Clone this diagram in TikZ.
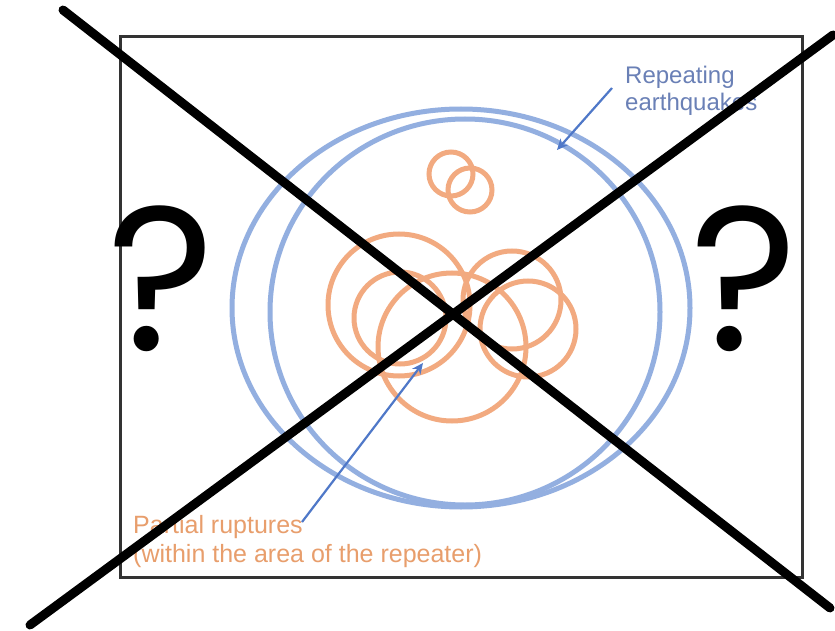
\documentclass[tikz,border=0pt]{standalone}
\usepackage{fontspec}
\newfontfamily\labfont{Liberation Sans}
\newfontfamily\qfont{Poppins}
\usetikzlibrary{arrows.meta}
\definecolor{ringblue}{HTML}{93AFE0}
\definecolor{ringorange}{HTML}{F2AA80}
\definecolor{arrowblue}{HTML}{4F78C8}
\definecolor{textblue}{HTML}{6A80B6}
\definecolor{textorange}{HTML}{E89E6C}
\tikzset{
  frame/.style={draw=black!80, line width=3pt},
  bluering/.style={draw=ringblue, line width=5pt},
  orangering/.style={draw=ringorange, line width=5pt},
  pointer/.style={draw=arrowblue, line width=2.2pt, -{Stealth[length=11pt,width=10pt]}},
  bluelabel/.style={text=textblue, font=\labfont\fontsize{24}{27}\selectfont, align=left, inner sep=0pt, anchor=north west},
  orangelabel/.style={text=textorange, font=\labfont\fontsize{25}{29}\selectfont, align=left, inner sep=0pt, anchor=north west},
  qmark/.style={font=\qfont\fontsize{205}{205}\selectfont, inner sep=0pt, anchor=base},
  crossline/.style={draw=black, line width=9pt, line cap=round}
}
\begin{document}
\begin{tikzpicture}[x=1pt,y=-1pt]
\useasboundingbox (0,0) rectangle (835,631);
\fill[white] (0,0) rectangle (835,631);
% frame
\draw[frame] (120,37) rectangle (802,577);
% repeating earthquakes (blue)
\draw[bluering] (461,308) ellipse [x radius=229, y radius=199];
\draw[bluering] (465,312) ellipse [x radius=195, y radius=193];
% partial ruptures (orange)
\draw[orangering] (451,174) circle [radius=22];
\draw[orangering] (470,190) circle [radius=22];
\draw[orangering] (399,305) circle [radius=71];
\draw[orangering] (400,318) circle [radius=46];
\draw[orangering] (452,347) circle [radius=74];
\draw[orangering] (512,300) circle [radius=49];
\draw[orangering] (528,329) circle [radius=48];
% labels
\node[bluelabel] (rep) at (625,66) {Repeating\\earthquakes};
\node[orangelabel] (par) at (133,515) {Partial ruptures\\(within the area of the repeater)};
% pointers
\coordinate (repTail) at (612,88);
\coordinate (repHead) at (557,150);
\draw[pointer] (repTail) -- (repHead);
\coordinate (parTail) at (302,522);
\coordinate (parHead) at (423,363);
\draw[pointer] (parTail) -- (parHead);
% question marks
\node[qmark] (qL) at (161,350) {?};
\node[qmark] (qR) at (744,350) {?};
% crossing-out lines
\coordinate (xAa) at (63,10);
\coordinate (xAb) at (830,608);
\coordinate (xBa) at (30,625);
\coordinate (xBb) at (833,35);
\draw[crossline] (xAa) -- (xAb);
\draw[crossline] (xBa) -- (xBb);
\end{tikzpicture}
\end{document}
